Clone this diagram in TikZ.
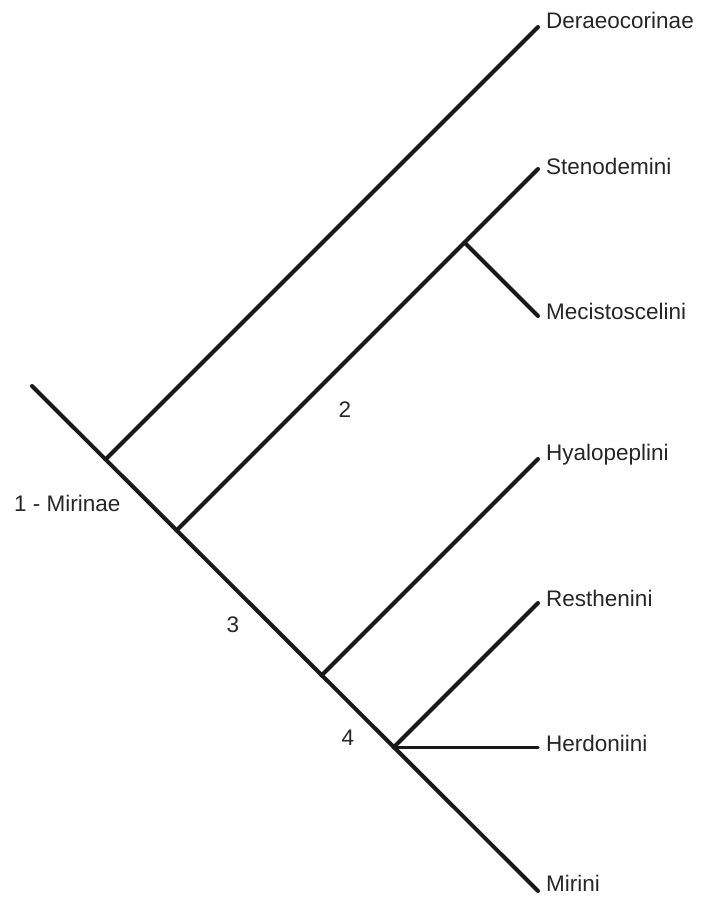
\documentclass[tikz,border=0pt]{standalone}
\usepackage{fontspec}
\setmainfont{Liberation Sans}
\begin{document}
\begin{tikzpicture}[x=1pt,y=-1pt,
  br/.style={line width=4pt,line cap=round,black!90},
  tx/.style={anchor=west,inner sep=0pt,font=\fontsize{22.5}{24}\selectfont,text=black!85},
  num/.style={inner sep=0pt,font=\fontsize{22.5}{24}\selectfont,text=black!85}]
\useasboundingbox (0,0) rectangle (705,897);
% coordinates
\coordinate (root) at (32,386);
\coordinate (j1) at (105.5,459.5);
\coordinate (j2) at (176.5,530.5);
\coordinate (j3) at (321.5,675.5);
\coordinate (j4) at (393.5,747.5);
\coordinate (js) at (464.5,242.5);
\coordinate (eD) at (538,27);
\coordinate (eS) at (538,169);
\coordinate (eM) at (538,316);
\coordinate (eH) at (538,459);
\coordinate (eR) at (538,603);
\coordinate (eHe) at (538,747.5);
\coordinate (eMi) at (538,891);
% labels
\node[tx] (lD) at (546,20) {Deraeocorinae};
\node[tx] (lS) at (546,166) {Stenodemini};
\node[tx] (lM) at (546,311) {Mecistoscelini};
\node[tx] (lH) at (546,455) {Hyalopeplini};
\node[tx] (lR) at (546,598) {Resthenini};
\node[tx] (lHe) at (546,743) {Herdoniini};
\node[tx] (lMi) at (546,883) {Mirini};
\node[tx] (l1) at (14,503) {1 - Mirinae};
\node[num] (l2) at (345,410) {2};
\node[num] (l3) at (233,625) {3};
\node[num] (l4) at (348,738) {4};
% branches
\draw[br] (root) -- (eMi);
\draw[br] (j1) -- (eD);
\draw[br] (j2) -- (eS);
\draw[br] (js) -- (eM);
\draw[br] (j3) -- (eH);
\draw[br] (j4) -- (eR);
\draw[br,line width=3.4pt] (j4) -- (eHe);
\end{tikzpicture}
\end{document}
